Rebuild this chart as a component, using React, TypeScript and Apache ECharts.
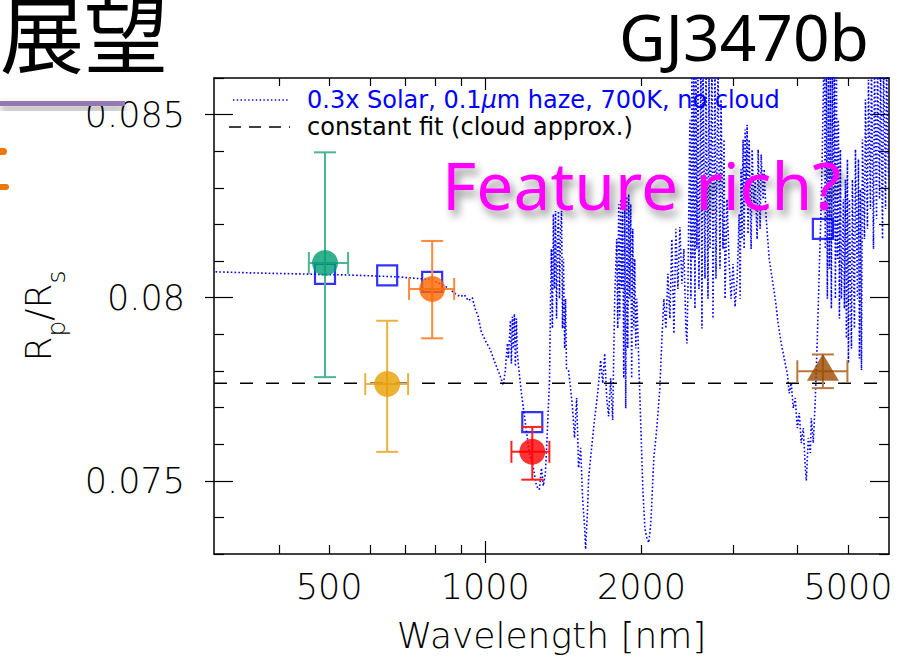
import React, { useEffect, useRef } from "react";
import * as echarts from "echarts";

// Axis ranges
const WAVELENGTH_MIN = 300;
const WAVELENGTH_MAX = 6000;
const RADIUS_MIN = 0.073;
const RADIUS_MAX = 0.086;

// Tick positions
const xLabelTicks = [500, 1000, 2000, 5000];
const xMinorTicks = [400, 500, 600, 700, 800, 900, 2000, 3000, 4000, 5000];
const xMajorTicks = [1000];
const yLabelTicks = [0.075, 0.08, 0.085];
const yMinorTicks = [0.073, 0.074, 0.076, 0.077, 0.078, 0.079, 0.081, 0.082, 0.083, 0.084, 0.086];
const yMajorTicks = [0.075, 0.08, 0.085];

// Model spectrum: 0.3x solar, 0.1 um haze, 700 K, no cloud
const modelWavelength = [
  297, 349, 436, 544, 679, 790, 848, 875, 895, 911, 927, 944, 956, 969, 982, 1000, 1022, 1045, 1069, 1083,
  1093, 1103, 1108, 1118, 1123, 1128, 1133, 1138, 1143, 1148, 1153, 1158, 1174, 1195, 1216, 1238, 1255, 1271, 1283, 1294, 1306,
  1318, 1330, 1336, 1341, 1347, 1353, 1359, 1366, 1372, 1378, 1384, 1390, 1397, 1403, 1409, 1415, 1422, 1428, 1434,
  1447, 1460, 1473, 1486, 1500, 1513, 1527, 1540, 1554, 1561, 1575,
  1582, 1603, 1625, 1647, 1669, 1684, 1699, 1714, 1729, 1744, 1760,
  1776, 1792, 1800, 1808, 1816, 1824, 1832, 1840, 1849, 1857, 1865, 1873, 1882, 1890, 1898, 1907, 1915, 1924, 1933, 1941, 1950, 1959, 1976, 1994, 2012, 2030, 2048, 2066, 2085,
  2113, 2141, 2170, 2190, 2209, 2229, 2249, 2269, 2289, 2310, 2330, 2351, 2372, 2393, 2414, 2436, 2447, 2458,
  2469, 2480, 2491, 2502, 2513, 2524, 2536, 2547, 2558, 2570, 2581, 2604, 2616, 2628, 2651, 2663, 2687, 2699, 2711, 2735, 2747, 2772, 2784, 2809, 2834, 2847, 2872, 2885, 2898, 2924,
  2950, 2977, 3003, 3030, 3058, 3071,
  3085, 3099, 3112, 3126, 3140, 3154, 3168, 3182, 3196, 3210, 3225, 3254, 3268, 3297, 3312, 3342, 3357, 3387, 3402, 3432, 3448,
  3479, 3526, 3573, 3621, 3669, 3719, 3769, 3820, 3854, 3888, 3923, 3958, 3994, 4029, 4065, 4102, 4138, 4157, 4194, 4232, 4250, 4288, 4327,
  4365, 4404, 4444, 4463, 4483, 4503, 4523, 4544, 4564, 4585, 4605, 4626, 4646, 4667, 4688, 4709, 4730, 4751, 4772, 4793, 4815, 4836, 4858, 4901, 4923, 4945, 4967, 4989, 5011, 5034, 5079, 5101, 5147, 5170, 5216, 5239, 5263, 5286, 5310, 5333, 5381, 5405, 5453, 5477, 5526, 5551, 5601, 5626, 5677, 5702, 5753, 5779, 5830, 5856, 5909, 5935, 5988,
];
const modelRadius = [
  0.08071, 0.08068, 0.08065, 0.08062, 0.08057, 0.08049, 0.08027, 0.08011, 0.08003, 0.08008, 0.07992, 0.08, 0.0797, 0.07948, 0.07908, 0.07883, 0.07859, 0.07821, 0.07785, 0.07761,
  0.07802, 0.07875, 0.07834, 0.07938, 0.0782, 0.07948, 0.07861, 0.07956, 0.07812, 0.07943, 0.07848, 0.07818, 0.07739, 0.07657, 0.07576, 0.07535, 0.07486, 0.07476, 0.07535, 0.07486, 0.07521,
  0.07644, 0.0778, 0.07997, 0.08133, 0.07916, 0.08228, 0.08024, 0.08237, 0.07943, 0.0816, 0.08237, 0.07997, 0.08188, 0.08237, 0.07916, 0.08106, 0.07861, 0.07997, 0.07807,
  0.07802, 0.07753, 0.07698, 0.07617, 0.07726, 0.07535, 0.0759, 0.07454, 0.07372, 0.07313, 0.07427,
  0.07508, 0.0759, 0.07671, 0.07739, 0.07829, 0.07766, 0.07848, 0.07726, 0.07676, 0.0778, 0.07666,
  0.07997, 0.0816, 0.07916, 0.08255, 0.07943, 0.08269, 0.08024, 0.08242, 0.0778, 0.08269, 0.07698, 0.08277, 0.07861, 0.08283, 0.07997, 0.08255, 0.0778, 0.08188, 0.07916, 0.08106, 0.07861, 0.07997, 0.07829, 0.07652, 0.07481, 0.07372, 0.07345, 0.07331, 0.07385,
  0.07562, 0.07644, 0.07753, 0.07889, 0.07997, 0.07916, 0.08065, 0.07943, 0.0816, 0.07902, 0.08188, 0.08024, 0.08193, 0.08038, 0.08133, 0.07916, 0.07875, 0.08024,
  0.08269, 0.08486, 0.07997, 0.0865, 0.08106, 0.0865, 0.0797, 0.0865, 0.08133, 0.0865, 0.08024, 0.0865, 0.07916, 0.0865, 0.08052, 0.0865, 0.07997, 0.0865, 0.08133, 0.0865, 0.07943, 0.0865, 0.08052, 0.0865, 0.08079, 0.08541, 0.08133, 0.08432, 0.07997, 0.08269,
  0.08103, 0.07997, 0.08092, 0.07975, 0.08052, 0.08133,
  0.08228, 0.07997, 0.08351, 0.0816, 0.08432, 0.08133, 0.08459, 0.08269, 0.08472, 0.08174, 0.08432, 0.08133, 0.08405, 0.08242, 0.08323, 0.0816, 0.08405, 0.08188, 0.08391, 0.08269, 0.08351,
  0.08215, 0.08106, 0.08052, 0.07997, 0.07929, 0.07875, 0.07834, 0.07793, 0.07739, 0.07767, 0.07698, 0.07726, 0.07644, 0.07685, 0.07603, 0.07644, 0.07535, 0.075, 0.07617, 0.07576, 0.07671, 0.07603, 0.07726,
  0.07889, 0.08079, 0.08269, 0.08405, 0.08568, 0.0865, 0.08133, 0.0865, 0.07997, 0.0865, 0.08079, 0.0865, 0.0797, 0.0865, 0.0816, 0.0865, 0.07997, 0.0865, 0.08106, 0.08486, 0.07943, 0.08405, 0.07997, 0.08269, 0.0797, 0.08323, 0.07889, 0.08378, 0.07821, 0.08269, 0.07861, 0.08323, 0.07916, 0.08405, 0.07997, 0.08378, 0.07834, 0.08296, 0.07802, 0.08432, 0.0816, 0.08541, 0.08188, 0.08595, 0.08242, 0.0865, 0.08133, 0.0865, 0.08215, 0.0865, 0.08269, 0.0865, 0.0816, 0.0865, 0.08242, 0.0865, 0.08323,
];

// Model binned to the observed bands (open squares)
const binWavelength = [491, 647, 790, 1232, 4474];
const binRadius = [0.08065, 0.08061, 0.08043, 0.0766, 0.08188];

// Flat (cloudy) fit
const constantFit = 0.07766;

// Observations
const obsWavelength = [491, 647, 790, 1232, 4474];
const obsRadius = [0.08095, 0.07764, 0.08024, 0.07579, 0.07799];
const obsWavelengthLow = [457, 587, 713, 1123, 3994];
const obsWavelengthHigh = [544, 710, 871, 1329, 4989];
const obsRadiusLow = [0.07783, 0.07579, 0.07889, 0.07503, 0.07753];
const obsRadiusHigh = [0.08397, 0.07937, 0.08155, 0.07647, 0.07845];
const obsColors = ["#009E73", "#E69F00", "#FF6600", "#FF0000", "#9A4A00"];
const obsBarColors = ["#4DB592", "#EEB140", "#FF8A3D", "#FF2020", "#B8773F"];

const lg = (v: number) => Math.log10(v);
const THIN = "DejaVu Sans";

function xAxisBase(extra: any) {
  return {
    type: "value",
    min: lg(WAVELENGTH_MIN),
    max: lg(WAVELENGTH_MAX),
    splitLine: { show: false },
    axisLine: { show: false },
    axisLabel: { show: false },
    axisTick: { show: false },
    ...extra,
  };
}
function yAxisBase(extra: any) {
  return {
    type: "value",
    min: RADIUS_MIN,
    max: RADIUS_MAX,
    splitLine: { show: false },
    axisLine: { show: false },
    axisLabel: { show: false },
    axisTick: { show: false },
    ...extra,
  };
}

const frameLine = { show: true, lineStyle: { color: "#000", width: 1.5 } };
const tickStyle = { color: "#000", width: 1.2 };

export default function App() {
  const ref = useRef<HTMLDivElement>(null);

  useEffect(() => {
    if (!ref.current) return;
    const chart = echarts.init(ref.current, undefined, { renderer: "svg" });

    const xAxis = [
      xAxisBase({
        position: "bottom",
        axisLine: frameLine,
        axisTick: { show: true, inside: true, length: 9, customValues: xMinorTicks.map(lg), lineStyle: tickStyle },
        axisLabel: {
          show: true,
          customValues: xLabelTicks.map(lg),
          formatter: (v: number) => String(Math.round(Math.pow(10, v))),
          margin: 15,
          fontFamily: THIN,
          fontWeight: 200,
          fontSize: 35,
          color: "#000",
        },
        name: "Wavelength [nm]",
        nameLocation: "middle",
        nameGap: 63,
        nameTextStyle: { fontFamily: THIN, fontWeight: 200, fontSize: 36, color: "#000" },
      }),
      xAxisBase({
        position: "bottom",
        axisTick: { show: true, inside: true, length: 13, customValues: xMajorTicks.map(lg), lineStyle: tickStyle },
      }),
      xAxisBase({
        position: "bottom",
        axisTick: { show: true, inside: false, length: 9, customValues: xMajorTicks.map(lg), lineStyle: tickStyle },
      }),
      xAxisBase({
        position: "top",
        axisLine: frameLine,
        axisTick: { show: true, inside: true, length: 8, customValues: xMinorTicks.map(lg), lineStyle: tickStyle },
      }),
      xAxisBase({
        position: "top",
        axisTick: { show: true, inside: true, length: 12, customValues: xMajorTicks.map(lg), lineStyle: tickStyle },
      }),
    ];

    const yAxis = [
      yAxisBase({
        position: "left",
        axisLine: frameLine,
        axisTick: { show: true, inside: true, length: 10, customValues: yMinorTicks, lineStyle: tickStyle },
        axisLabel: {
          show: true,
          customValues: yLabelTicks,
          formatter: (v: number) => String(Number(v.toFixed(3))),
          margin: 29,
          fontFamily: THIN,
          fontWeight: 200,
          fontSize: 35,
          color: "#000",
        },
        name: "{r|R}{s|p}{r|/R}{s|s}",
        nameLocation: "middle",
        nameRotate: 90,
        nameGap: 145,
        nameTextStyle: {
          fontFamily: THIN,
          fontWeight: 200,
          fontSize: 36,
          color: "#000",
          rich: {
            r: { fontFamily: THIN, fontWeight: 200, fontSize: 36, lineHeight: 62, verticalAlign: "middle", color: "#000" },
            s: { fontFamily: THIN, fontWeight: 200, fontSize: 25, lineHeight: 24, verticalAlign: "bottom", color: "#000" },
          },
        },
      }),
      yAxisBase({
        position: "left",
        axisTick: { show: true, inside: true, length: 19, customValues: yMajorTicks, lineStyle: tickStyle },
      }),
      yAxisBase({
        position: "left",
        axisTick: { show: true, inside: false, length: 9, customValues: yMajorTicks, lineStyle: tickStyle },
      }),
      yAxisBase({
        position: "right",
        axisLine: frameLine,
        axisTick: { show: true, inside: true, length: 10, customValues: yMinorTicks, lineStyle: tickStyle },
      }),
      yAxisBase({
        position: "right",
        axisTick: { show: true, inside: true, length: 19, customValues: yMajorTicks, lineStyle: tickStyle },
      }),
    ];

    const errorData = obsWavelength.map((w, i) => [
      lg(w),
      obsRadius[i],
      lg(obsWavelengthLow[i]),
      lg(obsWavelengthHigh[i]),
      obsRadiusLow[i],
      obsRadiusHigh[i],
      i,
    ]);

    const option: any = {
      animation: false,
      backgroundColor: "#fff",
      grid: { left: 214, right: 23, top: 78, bottom: 102, containLabel: false },
      xAxis,
      yAxis,
      series: [
        {
          type: "line",
          name: "model",
          data: modelWavelength.map((w, i) => [lg(w), modelRadius[i]]),
          symbol: "none",
          clip: true,
          silent: true,
          z: 2,
          lineStyle: { color: "#0000FF", width: 1.6, type: [1.6, 2.2] },
        },
        {
          type: "line",
          name: "constant",
          data: [
            [lg(WAVELENGTH_MIN), constantFit],
            [lg(WAVELENGTH_MAX), constantFit],
          ],
          symbol: "none",
          silent: true,
          z: 2,
          lineStyle: { color: "#000", width: 1.5, type: [13, 13] },
        },
        {
          type: "scatter",
          name: "binned",
          data: binWavelength.map((w, i) => [lg(w), binRadius[i]]),
          symbol: "rect",
          symbolSize: 20,
          silent: true,
          z: 3,
          itemStyle: { color: "rgba(0,0,0,0)", borderColor: "#0000FF", borderWidth: 2.2 },
        },
        {
          type: "custom",
          name: "errors",
          data: errorData,
          silent: true,
          z: 4,
          renderItem: (_params: any, api: any) => {
            const x = api.value(0);
            const y = api.value(1);
            const l = api.coord([api.value(2), y]);
            const r = api.coord([api.value(3), y]);
            const t = api.coord([x, api.value(5)]);
            const b = api.coord([x, api.value(4)]);
            const color = obsBarColors[api.value(6)];
            const style = { stroke: color, lineWidth: 2 };
            const cap = 11;
            return {
              type: "group",
              children: [
                { type: "line", shape: { x1: l[0], y1: l[1], x2: r[0], y2: r[1] }, style },
                { type: "line", shape: { x1: t[0], y1: t[1], x2: b[0], y2: b[1] }, style },
                { type: "line", shape: { x1: l[0], y1: l[1] - cap, x2: l[0], y2: l[1] + cap }, style },
                { type: "line", shape: { x1: r[0], y1: r[1] - cap, x2: r[0], y2: r[1] + cap }, style },
                { type: "line", shape: { x1: t[0] - cap, y1: t[1], x2: t[0] + cap, y2: t[1] }, style },
                { type: "line", shape: { x1: b[0] - cap, y1: b[1], x2: b[0] + cap, y2: b[1] }, style },
              ],
            };
          },
        },
        {
          type: "scatter",
          name: "observed",
          data: obsWavelength.slice(0, 4).map((w, i) => ({
            value: [lg(w), obsRadius[i]],
            itemStyle: { color: obsColors[i] },
          })),
          symbol: "circle",
          symbolSize: 26,
          silent: true,
          z: 5,
        },
        {
          type: "scatter",
          name: "spitzer",
          data: [{ value: [lg(obsWavelength[4]), obsRadius[4]], itemStyle: { color: obsColors[4] } }],
          symbol: "triangle",
          symbolSize: [32, 27],
          symbolOffset: [0, -4],
          silent: true,
          z: 5,
        },
      ],
      graphic: [
        {
          type: "text",
          z: 100,
          x: 0,
          y: 30,
          style: {
            text: "展望",
            fontFamily: "Noto Sans CJK JP",
            fontSize: 84,
            fill: "#000",
            verticalAlign: "middle",
            align: "left",
          },
        },
        {
          type: "rect",
          z: 100,
          shape: { x: 0, y: 101, width: 125, height: 5 },
          style: { fill: "#9479B3", shadowColor: "rgba(0,0,0,0.45)", shadowBlur: 8, shadowOffsetY: 5 },
        },
        {
          type: "rect",
          z: 100,
          shape: { x: -8, y: 148, width: 15, height: 7, r: 3.5 },
          style: { fill: "#EA7A10" },
        },
        {
          type: "rect",
          z: 100,
          shape: { x: -8, y: 184, width: 17, height: 6, r: 3 },
          style: { fill: "#EA7A10" },
        },
        {
          type: "text",
          z: 100,
          x: 619,
          y: 36,
          style: {
            text: "GJ3470b",
            fontFamily: "Noto Sans",
            fontSize: 64,
            fill: "#000",
            verticalAlign: "middle",
            align: "left",
          },
        },
        {
          type: "line",
          z: 100,
          shape: { x1: 233, y1: 100, x2: 290, y2: 100 },
          style: { stroke: "#0000FF", lineWidth: 1.4, lineDash: [1.4, 2.4] },
        },
        {
          type: "text",
          z: 100,
          x: 307,
          y: 100,
          style: {
            text: "0.3x Solar, 0.1{mu|μ}m haze, 700K, no cloud",
            fontFamily: "DejaVu Sans",
            fontSize: 24,
            fill: "#0000FF",
            verticalAlign: "middle",
            align: "left",
            rich: {
              mu: { fontFamily: "DejaVu Sans", fontSize: 24, fontStyle: "italic", fill: "#0000FF" },
            },
          },
        },
        {
          type: "line",
          z: 100,
          shape: { x1: 229, y1: 127, x2: 290, y2: 127 },
          style: { stroke: "#000", lineWidth: 1.5, lineDash: [12, 8] },
        },
        {
          type: "text",
          z: 100,
          x: 307,
          y: 127,
          style: {
            text: "constant fit (cloud approx.)",
            fontFamily: "DejaVu Sans",
            fontSize: 24,
            fill: "#000",
            verticalAlign: "middle",
            align: "left",
          },
        },
        {
          type: "text",
          z: 100,
          x: 442,
          y: 184,
          style: {
            text: "Feature rich?",
            fontFamily: "Noto Sans",
            fontSize: 66,
            fill: "#FF00FF",
            verticalAlign: "middle",
            align: "left",
            textShadowColor: "rgba(0,0,0,0.45)",
            textShadowBlur: 8,
            textShadowOffsetX: 4,
            textShadowOffsetY: 6,
          },
        },
      ],
    };

    chart.setOption(option);
    return () => chart.dispose();
  }, []);

  return (
    <div
      ref={ref}
      style={{ position: "absolute", left: 0, top: 0, width: 912, height: 658, background: "#fff" }}
    />
  );
}
